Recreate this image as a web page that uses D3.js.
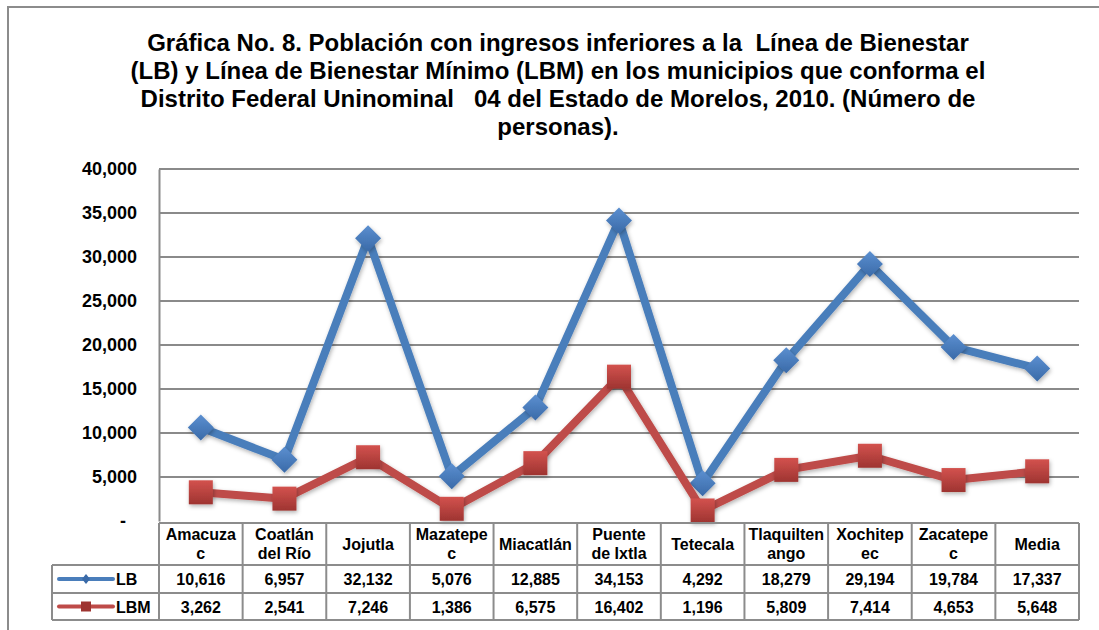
<!DOCTYPE html>
<html>
<head>
<meta charset="utf-8">
<script src="https://cdn.jsdelivr.net/npm/d3@7"></script>
<style>
  body { margin: 0; background: #fff; }
  svg { font-family: "Liberation Sans", Arial, sans-serif; }
</style>
</head>
<body>
<svg id="chart" width="1099" height="630"></svg>
<script>
'use strict';

const categories = ['Amacuzac', 'Coatlán del Río', 'Jojutla', 'Mazatepec', 'Miacatlán',
  'Puente de Ixtla', 'Tetecala', 'Tlaquiltenango', 'Xochitepec', 'Zacatepec', 'Media'];
// how the header cells break the names
const categoryLines = [['Amacuza', 'c'], ['Coatlán', 'del Río'], ['Jojutla'], ['Mazatepe', 'c'],
  ['Miacatlán'], ['Puente', 'de Ixtla'], ['Tetecala'], ['Tlaquilten', 'ango'], ['Xochitep', 'ec'],
  ['Zacatepe', 'c'], ['Media']];
const lbValues = [10616, 6957, 32132, 5076, 12885, 34153, 4292, 18279, 29194, 19784, 17337];
const lbmValues = [3262, 2541, 7246, 1386, 6575, 16402, 1196, 5809, 7414, 4653, 5648];
const yTicks = [0, 5000, 10000, 15000, 20000, 25000, 30000, 35000, 40000];
const titleLines = [
  'Gráfica No. 8. Población con ingresos inferiores a la  Línea de Bienestar',
  '(LB) y Línea de Bienestar Mínimo (LBM) en los municipios que conforma el',
  'Distrito Federal Uninominal   04 del Estado de Morelos, 2010. (Número de',
  'personas).'
];

const series = [
  { name: 'LB', values: lbValues, color: '#4a7ebb', light: '#5b8fd0', dark: '#3a6aa8', marker: 'diamond' },
  { name: 'LBM', values: lbmValues, color: '#be4b48', light: '#d3524e', dark: '#9e3431', marker: 'square' }
];

const plot = { left: 159, right: 1079, top: 169, bottom: 521 };
const table = { legendLeft: 52, top: 523, row1: 565, row2: 593, bottom: 620 };

const svg = d3.select('#chart');

// drop shadow + gradients for the markers
const defs = svg.append('defs');
const shadow = defs.append('filter').attr('id', 'shadow')
  .attr('x', '-50%').attr('y', '-50%').attr('width', '200%').attr('height', '200%');
shadow.append('feDropShadow').attr('dx', 1).attr('dy', 2).attr('stdDeviation', 2)
  .attr('flood-color', '#000').attr('flood-opacity', 0.3);
series.forEach(s => {
  const g = defs.append('linearGradient').attr('id', 'grad-' + s.name)
    .attr('x1', 0).attr('y1', 0).attr('x2', 0).attr('y2', 1);
  g.append('stop').attr('offset', '0%').attr('stop-color', s.light);
  g.append('stop').attr('offset', '100%').attr('stop-color', s.dark);
});

// outer frame
svg.append('path')
  .attr('d', 'M8,640 L8,7 L1110,7')
  .attr('fill', 'none').attr('stroke', '#8c8c8c').attr('stroke-width', 2);

// title
svg.append('text')
  .attr('x', 558).attr('y', 51)
  .attr('text-anchor', 'middle')
  .style('font-size', '24px').style('font-weight', 'bold').style('white-space', 'pre')
  .attr('fill', '#000')
  .selectAll('tspan')
  .data(titleLines)
  .enter()
  .append('tspan')
  .attr('x', 558)
  .attr('dy', (d, i) => i === 0 ? 0 : 28)
  .text(d => d);

const x = d3.scaleBand().domain(categories).range([plot.left, plot.right]);
const y = d3.scaleLinear().domain([0, 40000]).range([plot.bottom, plot.top]);

// gridlines
svg.append('g')
  .selectAll('line')
  .data(yTicks.filter(d => d > 0))
  .enter()
  .append('line')
  .attr('x1', plot.left).attr('x2', plot.right)
  .attr('y1', d => y(d)).attr('y2', d => y(d))
  .attr('stroke', '#8a8a8a').attr('stroke-width', 2);

// y axis
const yAxis = d3.axisLeft(y)
  .tickValues(yTicks)
  .tickSize(0)
  .tickPadding(22)
  .tickFormat(d => d === 0 ? '-' : d3.format(',')(d));
const yg = svg.append('g')
  .attr('transform', 'translate(' + plot.left + ',0)')
  .call(yAxis);
yg.select('.domain').attr('stroke', '#8a8a8a').attr('stroke-width', 2);
yg.selectAll('text')
  .style('font-size', '18px').style('font-weight', 'bold')
  .style('font-family', '"Liberation Sans", Arial, sans-serif')
  .attr('fill', '#000');
yg.selectAll('.tick').filter(d => d === 0).select('text').attr('dx', -11);

// lines and markers
const line = d3.line()
  .x((d, i) => x(categories[i]) + x.bandwidth() / 2)
  .y(d => y(d));

series.forEach(s => {
  const g = svg.append('g').attr('class', 'series-' + s.name);
  g.append('path')
    .datum(s.values)
    .attr('d', line)
    .attr('fill', 'none')
    .attr('stroke', s.color)
    .attr('stroke-width', 8)
    .attr('stroke-linejoin', 'round')
    .attr('filter', 'url(#shadow)');

  g.selectAll('.marker')
    .data(s.values)
    .enter()
    .append('path')
    .attr('class', 'marker')
    .attr('transform', (d, i) => 'translate(' + (x(categories[i]) + x.bandwidth() / 2) + ',' + y(d) + ')')
    .attr('d', s.marker === 'diamond' ? 'M0,-13 L13,0 L0,13 L-13,0 Z' : 'M-12,-12 H12 V12 H-12 Z')
    .attr('fill', 'url(#grad-' + s.name + ')')
    .attr('filter', 'url(#shadow)');
});

// data table
const tg = svg.append('g').attr('class', 'data-table');
const gridColor = '#8c8c8c';

// horizontal rules
tg.append('line').attr('x1', plot.left).attr('x2', plot.right)
  .attr('y1', table.top).attr('y2', table.top)
  .attr('stroke', gridColor).attr('stroke-width', 2);
[table.row1, table.row2, table.bottom].forEach(yy => {
  tg.append('line').attr('x1', table.legendLeft).attr('x2', plot.right)
    .attr('y1', yy).attr('y2', yy)
    .attr('stroke', gridColor).attr('stroke-width', 2);
});
// vertical rules
tg.append('line').attr('x1', table.legendLeft).attr('x2', table.legendLeft)
  .attr('y1', table.row1).attr('y2', table.bottom)
  .attr('stroke', gridColor).attr('stroke-width', 2);
tg.selectAll('.vrule')
  .data(categories)
  .enter()
  .append('line')
  .attr('class', 'vrule')
  .attr('x1', d => x(d)).attr('x2', d => x(d))
  .attr('y1', table.top).attr('y2', table.bottom)
  .attr('stroke', gridColor).attr('stroke-width', 2);
tg.append('line').attr('x1', plot.right).attr('x2', plot.right)
  .attr('y1', table.top).attr('y2', table.bottom)
  .attr('stroke', gridColor).attr('stroke-width', 2);

// header labels
const header = tg.selectAll('.hdr')
  .data(categories)
  .enter()
  .append('text')
  .attr('class', 'hdr')
  .attr('text-anchor', 'middle')
  .style('font-size', '16px').style('font-weight', 'bold')
  .attr('fill', '#000');
header.each(function (d, i) {
  const lines = categoryLines[i];
  const cx = x(d) + x.bandwidth() / 2;
  const startY = lines.length === 1 ? 550 : 540;
  d3.select(this).selectAll('tspan')
    .data(lines)
    .enter()
    .append('tspan')
    .attr('x', cx)
    .attr('y', (t, j) => startY + j * 19)
    .text(t => t);
});

// value rows
const fmt = d3.format(',');
series.forEach((s, si) => {
  const rowTop = si === 0 ? table.row1 : table.row2;
  const rowMid = rowTop + (si === 0 ? (table.row2 - table.row1) : (table.bottom - table.row2)) / 2;

  tg.selectAll('.val-' + s.name)
    .data(s.values)
    .enter()
    .append('text')
    .attr('x', (d, i) => x(categories[i]) + x.bandwidth() / 2)
    .attr('y', rowMid + 6)
    .attr('text-anchor', 'middle')
    .style('font-size', '16px').style('font-weight', 'bold')
    .attr('fill', '#000')
    .text(d => fmt(d));

  // legend key
  tg.append('line')
    .attr('x1', 59).attr('x2', 113)
    .attr('y1', rowMid).attr('y2', rowMid)
    .attr('stroke', s.color).attr('stroke-width', 4).attr('stroke-linecap', 'round');
  tg.append('path')
    .attr('transform', 'translate(86,' + rowMid + ')')
    .attr('d', s.marker === 'diamond' ? 'M0,-5 L4,0 L0,5 L-4,0 Z' : 'M-5,-5 H5 V5 H-5 Z')
    .attr('fill', s.dark);
  tg.append('text')
    .attr('x', 116).attr('y', rowMid + 6)
    .style('font-size', '16px').style('font-weight', 'bold')
    .attr('fill', '#000')
    .text(s.name);
});
</script>
</body>
</html>
